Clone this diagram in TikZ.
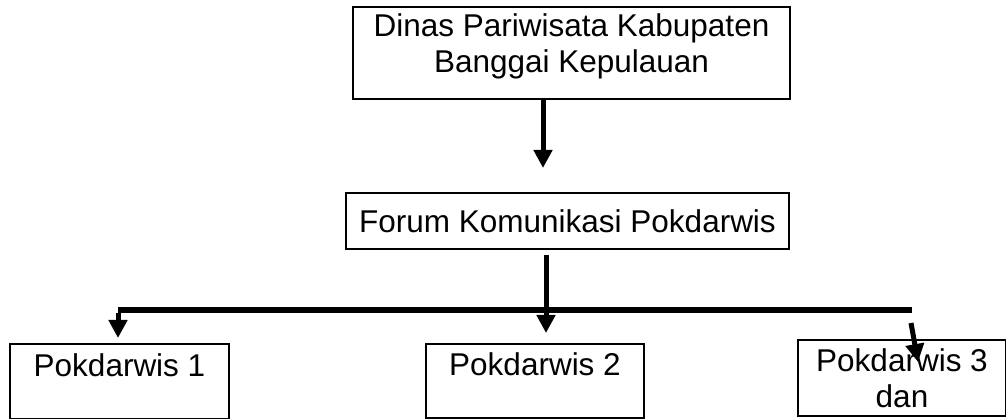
\documentclass[tikz,border=0pt]{standalone}
\usepackage{fontspec}
\setmainfont{Liberation Sans}
\usepackage{tikz}
\usetikzlibrary{arrows.meta,positioning,calc}

\begin{document}
\begin{tikzpicture}[x=1pt,y=-1pt,
  font=\fontsize{31.5}{36}\selectfont,
  unit/.style={draw=black,line width=2pt,fill=white,anchor=north west,align=center,inner xsep=0pt},
  link/.style={-{Triangle[width=18pt,length=18pt]},draw=black,line width=5pt},
  bus/.style={draw=black,line width=6pt}]

\path[use as bounding box] (0,0) rectangle (1006,419);
\node[unit,minimum width=437pt,minimum height=92pt,text depth=20pt] (dinas) at (352,6)
  {Dinas Pariwisata Kabupaten\\Banggai Kepulauan};
\node[unit,minimum width=443pt,minimum height=56pt] (forum) at (345,192)
  {Forum Komunikasi Pokdarwis};
\node[unit,minimum width=219pt,inner ysep=0pt,text height=32pt,text depth=43pt] (pok1) at (9,343)
  {Pokdarwis 1};
\node[unit,minimum width=218pt,inner ysep=0pt,text height=31pt,text depth=43pt] (pok2) at (425,343)
  {Pokdarwis 2};
\node[unit,minimum width=208pt,minimum height=76pt] (pok3) at (797,339)
  {Pokdarwis 3\\dan};
% garis pembagi
\coordinate (busL) at (118,310);
\coordinate (busR) at (912,310);
\coordinate (tail3) at (911,323);
\coordinate (tip3) at (918,362);
\draw[link,shorten >=24pt] ([xshift=-28.5pt]dinas.south) -- ([xshift=-28.5pt]dinas.south |- forum.north);
\draw[link,shorten <=5pt,shorten >=10pt] ([xshift=-21.5pt]forum.south) -- ([xshift=-21.5pt]forum.south |- pok2.north);
\draw[bus] (busL) -- (busR);
\draw[link,shorten >=5pt] ([yshift=-3pt]busL) -- (busL |- pok1.north);
\draw[link] (tail3) -- (tip3);

\end{tikzpicture}
\end{document}
